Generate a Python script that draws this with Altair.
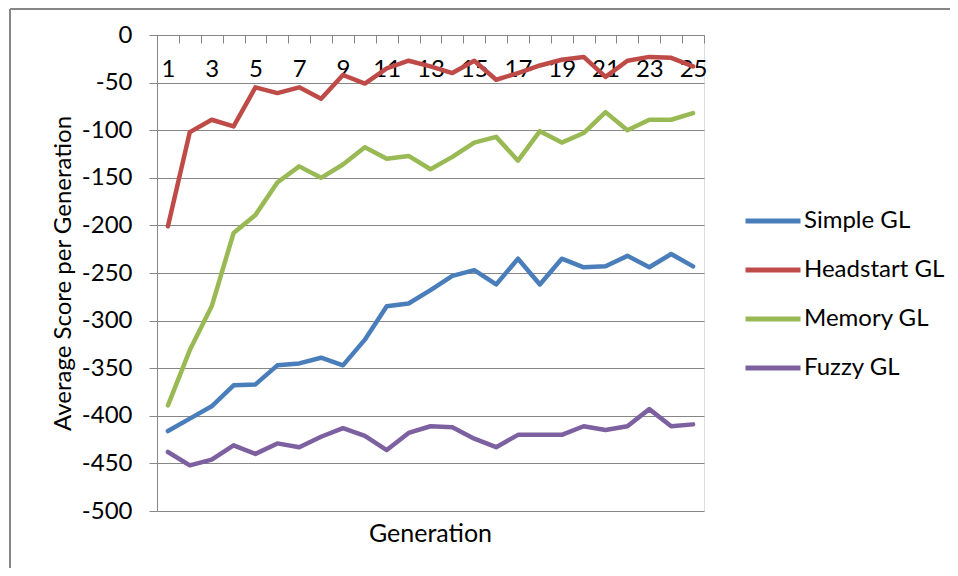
import altair as alt
import pandas as pd

generations = list(range(1, 26))
simple_gl = [-416, -403, -390, -368, -367, -347, -345, -339, -347, -320, -285, -282, -268,
             -253, -247, -262, -235, -262, -235, -244, -243, -232, -244, -230, -243]
headstart_gl = [-201, -102, -89, -96, -55, -61, -55, -67, -42, -51, -35, -27, -33,
                -40, -27, -47, -40, -32, -26, -23, -44, -27, -23, -24, -33]
memory_gl = [-389, -331, -285, -208, -189, -155, -138, -150, -136, -118, -130, -127, -141,
             -128, -113, -107, -132, -101, -113, -103, -81, -100, -89, -89, -82]
fuzzy_gl = [-438, -452, -446, -431, -440, -429, -433, -422, -413, -421, -436, -418, -411,
            -412, -424, -433, -420, -420, -420, -411, -415, -411, -393, -411, -409]

series_names = ["Simple GL", "Headstart GL", "Memory GL", "Fuzzy GL"]
series_colors = ["#4A7EBB", "#BE4B48", "#98B954", "#7D60A0"]
y_ticks = list(range(-500, 1, 50))
x_tick_values = [i * 0.5 for i in range(1, 52)]

rows = []
for name, vals in zip(series_names, [simple_gl, headstart_gl, memory_gl, fuzzy_gl]):
    for g, v in zip(generations, vals):
        rows.append({"gen": g, "score": v, "series": name})
df = pd.DataFrame(rows)

FONT = "Lato"
GRAY = "#868686"
W, H = 547, 476

lines = alt.Chart(df).mark_line(strokeWidth=4.5, strokeCap="round", strokeJoin="round").encode(
    x=alt.X(
        "gen:Q",
        scale=alt.Scale(domain=[0.5, 25.5], nice=False, zero=False),
        axis=alt.Axis(
            orient="bottom",
            offset=-H,
            values=x_tick_values,
            labelExpr="datum.value % 2 == 1 ? toString(datum.value) : ''",
            labelOverlap=False,
            labelFlush=False,
            labelFont=FONT,
            labelFontSize=24,
            labelColor="black",
            labelPadding=14,
            tickSize=8,
            tickColor=GRAY,
            tickOpacity={"condition": {"test": "datum.value % 1 != 0", "value": 1}, "value": 0},
            domainColor=GRAY,
            grid=False,
            title=None,
        ),
    ),
    y=alt.Y(
        "score:Q",
        scale=alt.Scale(domain=[-500, 0], nice=False, zero=False),
        axis=alt.Axis(
            values=y_ticks,
            labelExpr="toString(datum.value)",
            labelFont=FONT,
            labelFontSize=24,
            labelColor="black",
            labelPadding=17,
            tickSize=8,
            tickColor=GRAY,
            domainColor=GRAY,
            gridColor=GRAY,
            title="Average Score per Generation",
            titleFont=FONT,
            titleFontSize=24,
            titleFontWeight="normal",
            titleColor="black",
            titlePadding=6,
        ),
    ),
    color=alt.Color(
        "series:N",
        scale=alt.Scale(domain=series_names, range=series_colors),
        legend=alt.Legend(
            title=None,
            orient="none",
            legendX=586,
            legendY=156,
            symbolType="stroke",
            symbolSize=3025,
            symbolStrokeWidth=5,
            labelFont=FONT,
            labelFontSize=24,
            labelColor="black",
            labelOffset=1,
            rowPadding=7,
            padding=0,
        ),
    ),
)

frame_left = alt.Chart(df).mark_rule(color=GRAY, strokeWidth=1).encode(
    x=alt.value(-147), y=alt.value(-26), y2=alt.value(533)
)
frame_top = alt.Chart(df).mark_rule(color=GRAY, strokeWidth=1).encode(
    x=alt.value(-147), x2=alt.value(800), y=alt.value(-26)
)

chart = alt.layer(frame_left, frame_top, lines).properties(
    width=W,
    height=H,
    autosize=alt.AutoSizeParams(type="none"),
    padding={"left": 149, "top": 27, "right": 942 - 149 - W, "bottom": 560 - 27 - H},
    title=alt.TitleParams(
        text="Generation",
        orient="bottom",
        frame="group",
        anchor="middle",
        font=FONT,
        fontSize=25,
        fontWeight="normal",
        color="black",
        offset=-47,
    ),
).configure_view(stroke=None).configure(background="white")

chart.save("out.html", embed_options={"renderer": "svg", "actions": False})
